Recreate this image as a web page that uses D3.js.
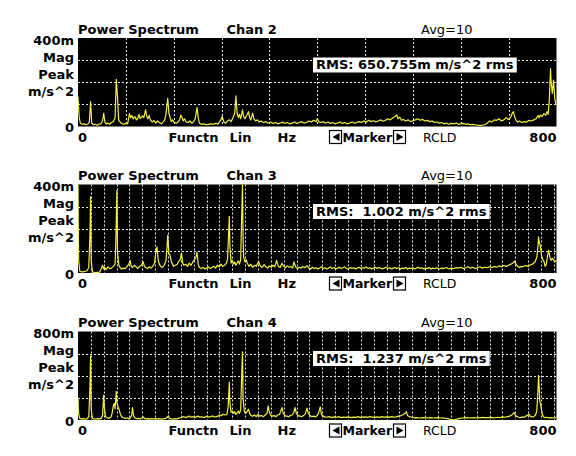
<!DOCTYPE html>
<html><head><meta charset="utf-8">
<script src="https://cdn.jsdelivr.net/npm/d3@7"></script>
<style>
html,body{margin:0;padding:0;background:#fff;}
svg{display:block;}
text{font-family:"DejaVu Sans",Verdana,sans-serif;}
</style></head>
<body>
<svg id="chart" width="576" height="456"></svg>
<script>
// ---------- data (Hz, m/s^2 × 1000 i.e. "m") ----------
const channels = ["Chan 2", "Chan 3", "Chan 4"];
const yMaxLabels = ["400m", "400m", "800m"];
const yMaxValues = [400, 400, 800];
const rmsLabels = ["RMS: 650.755m m/s^2 rms", "RMS:\u00a0 1.002 m/s^2 rms", "RMS:\u00a0 1.237 m/s^2 rms"];
const yUnitLabels = ["Mag", "Peak", "m/s^2"];
const xTickLabels = ["0", "800"];
const xDomain = [0, 800];
const gridStepsHz = [80, 21.5, 21.5];

const chan2 = [[0,135],[2,40],[4,15],[7,10],[10,12],[13,8],[16,10],[19,20],[21,112],[23,15],[26,8],[29,10],[32,6],[35,10],[38,12],[41,25],[43,60],[45,20],[47,12],[50,15],[53,10],[56,18],[59,22],[62,40],[64,213],[66,135],[68,30],[71,18],[74,12],[77,10],[80,14],[83,12],[86,58],[88,40],[90,50],[92,35],[95,45],[98,30],[100,38],[102,55],[104,35],[106,42],[108,48],[110,40],[113,75],[115,45],[117,35],[119,50],[121,30],[124,20],[127,28],[130,15],[133,25],[136,18],[139,12],[142,20],[145,30],[147,55],[150,127],[152,60],[154,40],[156,22],[158,30],[161,18],[164,15],[167,20],[170,30],[172,52],[174,40],[176,25],[178,35],[181,20],[184,18],[187,25],[190,15],[193,20],[196,35],[199,85],[201,40],[203,15],[206,10],[210,12],[214,8],[218,10],[222,12],[226,10],[230,14],[234,12],[238,25],[241,45],[244,20],[247,15],[250,25],[253,30],[256,22],[259,40],[262,60],[264,138],[266,60],[268,40],[270,55],[272,35],[275,75],[277,45],[279,35],[282,50],[285,67],[287,40],[289,30],[292,60],[294,35],[297,25],[300,30],[303,20],[306,25],[310,18],[314,22],[318,15],[322,20],[326,14],[330,18],[334,12],[338,16],[342,20],[346,14],[350,18],[354,12],[358,15],[362,20],[366,14],[370,18],[374,22],[378,15],[382,18],[386,25],[390,20],[394,28],[398,22],[400,35],[403,20],[406,18],[410,22],[414,15],[418,20],[422,14],[426,18],[430,12],[434,16],[438,20],[442,14],[446,18],[450,12],[454,16],[458,20],[462,15],[466,18],[470,22],[474,18],[478,25],[482,20],[486,28],[490,22],[494,26],[498,20],[502,25],[506,30],[510,24],[514,28],[518,35],[522,30],[526,38],[530,45],[533,52],[535,35],[538,42],[541,28],[544,32],[548,25],[552,30],[556,22],[560,26],[564,30],[568,35],[572,28],[576,32],[580,25],[584,28],[588,22],[592,25],[596,18],[600,20],[604,15],[608,18],[612,12],[616,15],[620,10],[624,14],[628,12],[632,16],[636,10],[640,12],[644,14],[648,10],[652,12],[656,8],[660,10],[664,8],[668,6],[672,5],[676,6],[680,8],[684,15],[688,25],[692,20],[696,30],[700,28],[704,35],[708,25],[712,30],[716,40],[720,32],[724,45],[726,60],[728,67],[730,45],[732,30],[735,20],[738,25],[742,18],[746,22],[750,20],[754,28],[758,25],[762,30],[766,35],[769,50],[771,40],[773,52],[776,45],[779,58],[782,50],[784,67],[786,55],[788,120],[790,262],[791,200],[793,150],[795,210],[797,130],[799,100],[800,97]];

const chan3 = [[0,400],[1,60],[3,8],[6,5],[9,6],[12,8],[15,10],[18,25],[20,170],[21,344],[22,60],[24,5],[27,3],[30,2],[33,3],[36,4],[39,20],[41,35],[43,18],[45,25],[47,15],[50,28],[53,20],[56,22],[59,30],[62,40],[63,118],[64,234],[65,374],[66,100],[68,40],[70,25],[73,18],[76,22],[79,20],[82,30],[85,40],[87,57],[89,30],[91,25],[94,35],[97,28],[100,20],[103,30],[106,35],[109,50],[111,30],[113,25],[116,20],[119,28],[122,22],[125,30],[128,45],[130,90],[132,118],[134,60],[136,40],[138,30],[141,25],[144,35],[147,55],[149,120],[150,170],[152,88],[154,80],[156,50],[158,40],[160,30],[163,35],[166,40],[169,55],[171,60],[173,90],[175,45],[177,35],[180,40],[183,30],[186,45],[189,35],[192,50],[195,60],[197,70],[199,94],[201,40],[203,25],[206,20],[209,25],[212,18],[215,22],[218,28],[221,20],[224,25],[227,30],[230,22],[233,35],[236,28],[239,40],[242,30],[245,35],[248,45],[250,60],[253,256],[254,120],[256,45],[258,57],[260,40],[262,50],[264,35],[266,45],[268,55],[270,40],[272,60],[274,300],[275,400],[276,150],[277,72],[279,50],[281,60],[283,45],[286,30],[289,40],[292,25],[295,35],[298,30],[302,52],[305,30],[308,25],[311,38],[314,28],[317,22],[320,32],[323,26],[326,35],[329,28],[332,57],[335,30],[338,25],[341,44],[344,30],[347,24],[350,32],[353,26],[356,30],[359,22],[361,50],[364,28],[367,20],[370,26],[373,22],[376,30],[379,24],[383,33],[386,22],[389,18],[392,26],[395,20],[398,24],[401,18],[404,22],[407,28],[410,20],[413,24],[416,18],[419,22],[422,28],[425,20],[428,25],[431,18],[434,22],[437,26],[440,20],[443,24],[446,28],[449,20],[452,18],[455,25],[458,20],[461,24],[464,18],[467,22],[470,26],[473,20],[476,24],[479,22],[482,28],[485,20],[488,24],[491,18],[494,22],[497,26],[500,20],[503,25],[506,22],[509,18],[512,22],[515,26],[518,20],[521,24],[524,18],[527,22],[530,25],[533,20],[536,24],[539,18],[542,22],[545,20],[548,25],[551,18],[554,22],[557,20],[560,24],[563,18],[566,22],[569,26],[572,20],[575,24],[578,18],[581,22],[584,20],[587,25],[590,18],[593,22],[596,20],[600,24],[604,18],[608,22],[612,20],[616,25],[620,18],[624,22],[628,20],[632,24],[636,22],[640,26],[644,20],[648,24],[652,28],[656,22],[660,26],[664,20],[668,24],[672,28],[676,22],[680,26],[684,24],[688,28],[692,25],[696,30],[700,26],[704,32],[708,28],[712,34],[716,30],[720,35],[724,40],[727,45],[730,54],[732,40],[735,30],[738,25],[741,30],[744,28],[748,34],[752,30],[756,36],[760,40],[764,50],[767,70],[769,120],[770,163],[771,140],[773,120],[775,80],[777,60],[779,53],[781,30],[783,40],[785,79],[787,103],[789,70],[791,57],[793,66],[795,60],[797,50],[800,57]];

const chan4 = [[0,204],[1,60],[3,15],[6,10],[9,12],[12,8],[15,10],[18,30],[20,302],[21,577],[22,100],[24,15],[27,10],[30,8],[33,12],[36,10],[39,15],[41,40],[43,226],[44,113],[46,30],[49,20],[52,15],[55,25],[57,60],[59,130],[61,150],[62,100],[64,260],[65,158],[67,120],[69,90],[71,50],[73,30],[76,20],[79,15],[82,18],[85,12],[88,20],[90,50],[91,113],[93,40],[95,20],[98,12],[101,15],[104,10],[107,18],[109,27],[111,15],[114,10],[117,12],[120,8],[123,12],[126,10],[129,14],[132,8],[135,12],[138,10],[141,8],[144,12],[147,15],[149,25],[151,37],[153,15],[156,10],[159,8],[162,12],[165,10],[168,15],[171,20],[174,25],[177,30],[180,22],[183,28],[186,35],[189,25],[192,30],[195,22],[198,28],[201,35],[204,25],[207,30],[210,22],[213,28],[216,35],[219,25],[222,30],[225,37],[228,28],[231,30],[234,35],[237,45],[240,40],[243,52],[246,45],[249,50],[251,120],[253,342],[254,150],[256,70],[258,82],[260,60],[262,75],[264,50],[266,65],[268,80],[270,60],[272,90],[274,464],[275,617],[276,200],[278,80],[280,60],[282,70],[285,98],[287,60],[289,40],[292,35],[295,45],[298,30],[301,50],[304,35],[307,40],[310,30],[313,45],[316,60],[318,128],[320,70],[322,45],[325,35],[328,40],[331,30],[334,45],[337,50],[339,80],[341,113],[343,60],[346,40],[349,35],[352,30],[355,40],[358,45],[361,70],[363,113],[365,60],[368,40],[371,35],[374,30],[377,40],[380,55],[383,107],[385,60],[388,40],[391,30],[394,35],[397,28],[400,40],[402,60],[405,119],[407,50],[410,35],[413,28],[416,25],[420,30],[424,22],[428,28],[432,25],[436,30],[440,22],[444,26],[448,24],[452,28],[456,22],[460,26],[464,24],[468,30],[472,22],[476,26],[480,28],[484,24],[488,30],[492,26],[496,22],[500,28],[504,24],[508,30],[512,26],[516,28],[520,24],[524,30],[528,26],[532,28],[536,35],[540,40],[544,50],[547,60],[549,76],[551,40],[554,30],[558,25],[562,20],[566,22],[570,18],[574,20],[578,22],[582,18],[586,20],[590,22],[594,18],[598,20],[602,22],[606,18],[610,20],[614,16],[618,12],[622,5],[626,2],[630,3],[634,8],[638,15],[642,18],[646,20],[650,22],[654,18],[658,20],[662,22],[666,18],[670,20],[674,22],[678,24],[682,20],[686,22],[690,24],[694,20],[698,22],[702,25],[706,22],[710,28],[714,25],[718,30],[722,35],[725,45],[727,55],[729,67],[731,45],[734,30],[737,25],[740,22],[743,28],[746,25],[749,35],[752,45],[754,52],[756,35],[759,28],[762,30],[765,45],[767,80],[769,266],[770,403],[771,300],[772,174],[774,120],[776,60],[778,30],[781,21],[784,25],[787,18],[790,22],[793,20],[796,18],[800,21]];

const spectra = [chan2, chan3, chan4];

// ---------- layout ----------
const svg = d3.select("#chart");
const plotLeft = 78, plotRight = 556.5, plotH = 88.5;
const tops = [38, 184.5, 331.5];
const x = d3.scaleLinear().domain(xDomain).range([plotLeft, plotRight]);

spectra.forEach((data, i) => {
  const T = tops[i], B = T + plotH;
  const y = d3.scaleLinear().domain([0, yMaxValues[i]]).range([B, T]);
  const g = svg.append("g");

  g.append("rect").attr("x", plotLeft).attr("y", T)
    .attr("width", plotRight - plotLeft).attr("height", plotH).attr("fill", "#000");

  // grid
  const vTicks = d3.range(gridStepsHz[i], xDomain[1] - 1, gridStepsHz[i]);
  g.selectAll(null).data(vTicks).enter().append("line")
    .attr("x1", d => Math.round(x(d)) + 0.5).attr("x2", d => Math.round(x(d)) + 0.5)
    .attr("y1", T).attr("y2", B)
    .attr("stroke", "#e8e8e8").attr("stroke-width", 1).attr("stroke-dasharray", "2,2");
  const hTicks = y.ticks(4).filter(d => d > 0 && d < yMaxValues[i]);
  g.selectAll(null).data(hTicks).enter().append("line")
    .attr("x1", plotLeft).attr("x2", plotRight)
    .attr("y1", d => Math.round(y(d)) + 0.5).attr("y2", d => Math.round(y(d)) + 0.5)
    .attr("stroke", "#e8e8e8").attr("stroke-width", 1).attr("stroke-dasharray", "2,2");

  // trace
  const clipId = "clip" + i;
  svg.append("clipPath").attr("id", clipId).append("rect")
    .attr("x", plotLeft).attr("y", T).attr("width", plotRight - plotLeft).attr("height", plotH);
  const line = d3.line().x(d => x(d[0])).y(d => y(Math.min(d[1], yMaxValues[i])));
  g.append("path").datum(data).attr("d", line).attr("clip-path", `url(#${clipId})`)
    .attr("fill", "none").attr("stroke", "#f4f040").attr("stroke-width", 1.2)
    .attr("stroke-linejoin", "round");

  // RMS box
  const rms = g.append("text").attr("x", 316).attr("y", T + 31)
    .attr("font-size", 13).attr("font-weight", "bold").attr("fill", "#000")
    .text(rmsLabels[i]);
  const bb = rms.node().getBBox();
  g.insert("rect", () => rms.node())
    .attr("x", 313).attr("y", T + 19.5)
    .attr("width", bb.width + 6).attr("height", 15).attr("fill", "#fff");

  // titles
  g.append("text").attr("x", 78).attr("y", T - 4.5).attr("font-size", 13)
    .attr("font-weight", "bold").text("Power Spectrum");
  g.append("text").attr("x", 226.5).attr("y", T - 4.5).attr("font-size", 13)
    .attr("font-weight", "bold").text(channels[i]);
  g.append("text").attr("x", 421).attr("y", T - 4.5).attr("font-size", 13)
    .text("Avg=10");

  // y labels
  const yl = [[yMaxLabels[i], 6.5], [yUnitLabels[0], 23.5], [yUnitLabels[1], 40.5], [yUnitLabels[2], 57.5], ["0", 94]];
  yl.forEach(([t, dy]) => {
    g.append("text").attr("x", 74).attr("y", T + dy).attr("text-anchor", "end")
      .attr("font-size", 13).attr("font-weight", "bold").text(t);
  });

  // x labels
  const by = T + 103.5;
  g.append("text").attr("x", x(xDomain[0])).attr("y", by).attr("font-size", 13)
    .attr("font-weight", "bold").text(xTickLabels[0]);
  g.append("text").attr("x", x(xDomain[1])).attr("y", by).attr("text-anchor", "end")
    .attr("font-size", 13).attr("font-weight", "bold").text(xTickLabels[1]);
  g.append("text").attr("x", 168.5).attr("y", by).attr("font-size", 13)
    .attr("font-weight", "bold").text("Functn");
  g.append("text").attr("x", 229.5).attr("y", by).attr("font-size", 13)
    .attr("font-weight", "bold").text("Lin");
  g.append("text").attr("x", 277.5).attr("y", by).attr("font-size", 13)
    .attr("font-weight", "bold").text("Hz");
  g.append("text").attr("x", 423).attr("y", by).attr("font-size", 12.5)
    .text("RCLD");

  // Marker with arrow boxes
  const my = T + 92.5, mh = 13;
  g.append("rect").attr("x", 329.5).attr("y", my).attr("width", 12).attr("height", mh)
    .attr("fill", "#fff").attr("stroke", "#000").attr("stroke-width", 1.2);
  g.append("path").attr("d", `M${332.5},${my + mh / 2} L${339.5},${my + 2.5} L${339.5},${my + mh - 2.5} Z`)
    .attr("fill", "#000");
  g.append("text").attr("x", 342.5).attr("y", by).attr("font-size", 12.5)
    .attr("font-weight", "bold").text("Marker");
  g.append("rect").attr("x", 393.5).attr("y", my).attr("width", 12).attr("height", mh)
    .attr("fill", "#fff").attr("stroke", "#000").attr("stroke-width", 1.2);
  g.append("path").attr("d", `M${403.5},${my + mh / 2} L${396.5},${my + 2.5} L${396.5},${my + mh - 2.5} Z`)
    .attr("fill", "#000");
});
</script>
</body></html>
